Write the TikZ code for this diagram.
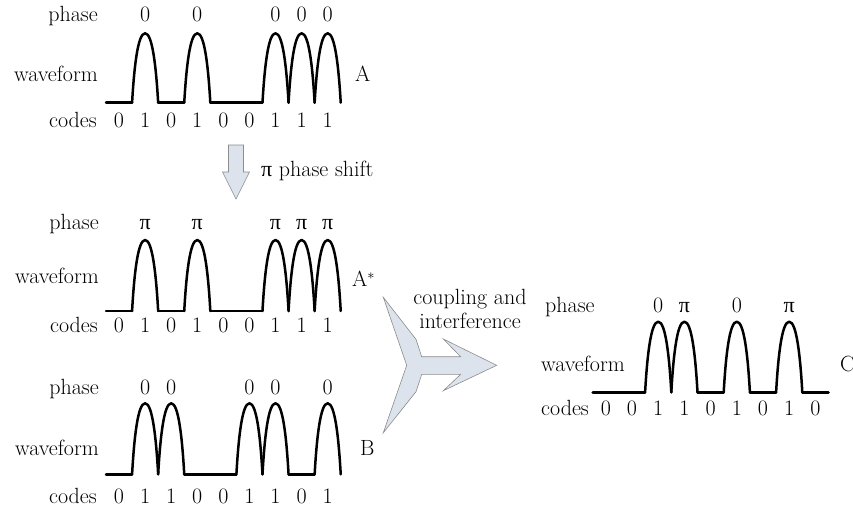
\documentclass[tikz,border=0pt]{standalone}
\usepackage{fontspec}
\newfontfamily\grk{Liberation Serif}
\usetikzlibrary{positioning}

\definecolor{arrowfill}{RGB}{221,227,236}
\definecolor{arrowline}{RGB}{140,140,140}

\tikzset{
  lbl/.style={font=\fontsize{22}{24}\selectfont, inner sep=0pt, anchor=base},
  rowlbl/.style={lbl, anchor=base east},
  wave/.style={line width=2.5pt, line cap=round, line join=round},
  blockarrow/.style={draw=arrowline, fill=arrowfill, line width=0.6pt, line join=miter}
}

\begin{document}
\begin{tikzpicture}[x=1pt,y=-1pt]
\useasboundingbox (0,0) rectangle (853,507);

% Signal A
\node[rowlbl] (phaseA) at (98,21.7) {phase};
\node[rowlbl] (waveA) at (98,81) {waveform};
\node[rowlbl] (codesA) at (97,127.7) {codes};
\node[lbl, anchor=base west] (nameA) at (355,81) {A};
\foreach \i in {1,3,6,7,8} {
  \draw[wave] (106+\i*26.08,102.7) .. controls +(2.1,-36) and +(-7.3,0) .. ++(13.04,-69.4)
    .. controls +(7.3,0) and +(-2.1,-36) .. ++(13.04,69.4);
  \node[lbl] (pA\i) at (119+\i*26.08,21.7) {0};
}
\foreach \i in {0,2,4,5}
  \draw[wave] (106+\i*26.08,102.7) -- ++(26.08,0);
\foreach \c [count=\i from 0] in {0,1,0,1,0,0,1,1,1}
  \node[lbl] (cA\i) at (119+\i*26.08,127.7) {\c};

% Phase shift arrow
\draw[blockarrow] (228.5,145) -- (243.5,145) -- (243.5,172) -- (249.5,172)
  -- (236,199) -- (222.5,172) -- (228.5,172) -- cycle;
\node[lbl, anchor=base west] (shift) at (261,176.5) {{\grk π} phase shift};

% Signal A*
\node[rowlbl] (phaseAs) at (99,229) {phase};
\node[rowlbl] (waveAs) at (99,283.3) {waveform};
\node[rowlbl] (codesAs) at (98,332.7) {codes};
\node[lbl, anchor=base west] (nameAs) at (352,286.7) {A$^{*}$};
\foreach \i in {1,3,6,7,8} {
  \draw[wave] (106+\i*26.08,311) .. controls +(2.1,-37) and +(-7.3,0) .. ++(13.04,-71)
    .. controls +(7.3,0) and +(-2.1,-37) .. ++(13.04,71);
  \node[lbl] (pAs\i) at (119+\i*26.08,229) {\grk π};
}
\foreach \i in {0,2,4,5}
  \draw[wave] (106+\i*26.08,311) -- ++(26.08,0);
\foreach \c [count=\i from 0] in {0,1,0,1,0,0,1,1,1}
  \node[lbl] (cAs\i) at (119+\i*26.08,332.7) {\c};

% Signal B
\node[rowlbl] (phaseB) at (99,394.3) {phase};
\node[rowlbl] (waveB) at (99,455) {waveform};
\node[rowlbl] (codesB) at (97,503) {codes};
\node[lbl, anchor=base west] (nameB) at (360,455) {B};
\foreach \i in {1,2,5,6,8} {
  \draw[wave] (106+\i*26.08,474.3) .. controls +(2.1,-37) and +(-7.3,0) .. ++(13.04,-71)
    .. controls +(7.3,0) and +(-2.1,-37) .. ++(13.04,71);
  \node[lbl] (pB\i) at (119+\i*26.08,394.3) {0};
}
\foreach \i in {0,3,4,7}
  \draw[wave] (106+\i*26.08,474.3) -- ++(26.08,0);
\foreach \c [count=\i from 0] in {0,1,1,0,0,1,1,0,1}
  \node[lbl] (cB\i) at (119+\i*26.08,503) {\c};

% Coupling arrow
\draw[blockarrow] (383.3,297.3) -- (416,339.3) -- (421.7,356.7) -- (460.7,356.7)
  -- (443.3,339) -- (496.7,365.3) -- (443.3,390.7) -- (460.7,374.3)
  -- (421.7,374.3) -- (416,391.7) -- (383.3,432.7) -- (406.7,365.3) -- cycle;
\node[lbl, anchor=center, align=center] (coupling) at (470,309) {coupling and\\interference};

% Signal C
\node[lbl, anchor=base west] (phaseC) at (545,312.3) {phase};
\node[lbl, anchor=base west] (waveC) at (541,371) {waveform};
\node[lbl, anchor=base west] (codesC) at (541,415.7) {codes};
\node[lbl, anchor=base west] (nameC) at (840,371) {C};
\foreach \i in {2,3,5,7}
  \draw[wave] (592.7+\i*26.2,392.3) .. controls +(2.1,-37) and +(-7.3,0) .. ++(13.1,-70.6)
    .. controls +(7.3,0) and +(-2.1,-37) .. ++(13.1,70.6);
\foreach \i in {0,1,4,6,8}
  \draw[wave] (592.7+\i*26.2,392.3) -- ++(26.2,0);
\foreach \i/\p in {2/0,3/{\grk π},5/0,7/{\grk π}}
  \node[lbl] (pC\i) at (605.8+\i*26.2,312.3) {\p};
\foreach \c [count=\i from 0] in {0,0,1,1,0,1,0,1,0}
  \node[lbl] (cC\i) at (605.8+\i*26.2,415.7) {\c};
\end{tikzpicture}
\end{document}
